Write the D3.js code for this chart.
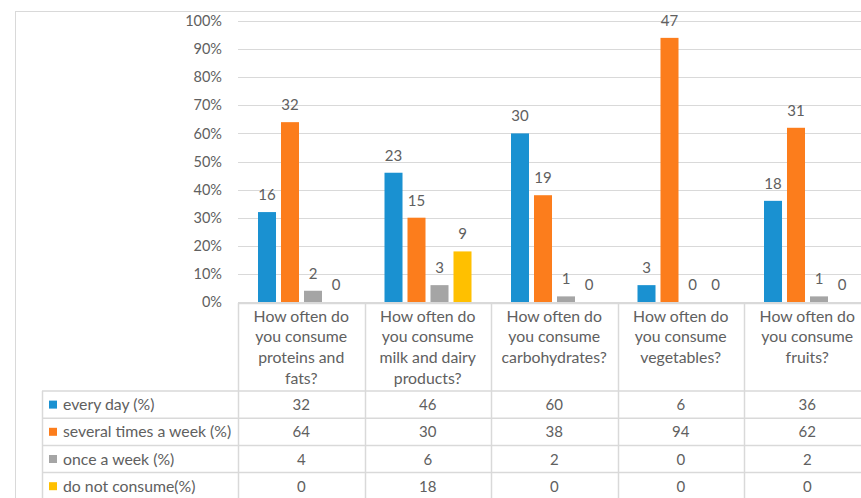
<!DOCTYPE html>
<html><head><meta charset="utf-8">
<script src="https://cdn.jsdelivr.net/npm/d3@7"></script>
<style>
html,body{margin:0;padding:0;background:#fff;overflow:hidden}
text{font-family:Lato,"Open Sans",sans-serif;fill:#606060}
</style></head>
<body><svg id="c" width="861" height="498"></svg>
<script>
const categories = [
  ["How often do","you consume","proteins and","fats?"],
  ["How often do","you consume","milk and dairy","products?"],
  ["How often do","you consume","carbohydrates?"],
  ["How often do","you consume","vegetables?"],
  ["How often do","you consume","fruits?"]
];
const seriesNames = ["every day (%)","several times a week (%)","once a week (%)","do not consume(%)"];
const everyDay = [32,46,60,6,36];
const severalTimes = [64,30,38,94,62];
const onceWeek = [4,6,2,0,2];
const notConsume = [0,18,0,0,0];
const countEveryDay = [16,23,30,3,18];
const countSeveral = [32,15,19,47,31];
const countOnce = [2,3,1,0,1];
const countNot = [0,9,0,0,0];
const yTicks = [0,10,20,30,40,50,60,70,80,90,100];
const colors = ["#1a91d1","#fc7d1c","#a5a5a5","#ffc000"];

const percents = [everyDay, severalTimes, onceWeek, notConsume];
const counts = [countEveryDay, countSeveral, countOnce, countNot];

const svg = d3.select("#c");
const idx = d3.range(categories.length);
const x = d3.scaleBand().domain(idx).range([238, 870.5]);
const xs = d3.scaleBand().domain(d3.range(4)).range([20, 107]).paddingInner(0.217);
const y = d3.scaleLinear().domain([0,100]).range([302, 21]);
const lineCol = "#d9d9d9";

// outer border
svg.append("rect").attr("x",15.5).attr("y",11.5).attr("width",900).attr("height",600)
  .attr("fill","none").attr("stroke",lineCol);

// gridlines
svg.append("g").selectAll("line").data(yTicks).join("line")
  .attr("x1",238).attr("x2",871).attr("y1",d=>Math.round(y(d))+0.5).attr("y2",d=>Math.round(y(d))+0.5)
  .attr("stroke",lineCol);

// y axis labels
const yAxis = d3.axisLeft(y).tickValues(yTicks).tickFormat(d=>d+"%").tickSize(0).tickPadding(0);
const ga = svg.append("g").attr("transform","translate(222,0)").call(yAxis);
ga.select(".domain").remove();
ga.selectAll("text").attr("font-size",14.5).attr("font-family","Lato,sans-serif").attr("fill","#606060");

// bars
percents.forEach((arr,s)=>{
  const g = svg.append("g");
  g.selectAll("rect").data(idx).join("rect")
    .attr("x",i=>x(i)+xs(s)).attr("width",xs.bandwidth())
    .attr("y",i=>y(arr[i])).attr("height",i=>y(0)-y(arr[i]))
    .attr("fill",colors[s]);
  g.selectAll("text").data(idx).join("text")
    .attr("x",i=>x(i)+xs(s)+xs.bandwidth()/2).attr("y",i=>y(arr[i])-12)
    .attr("text-anchor","middle").attr("font-size",15).text(i=>counts[s][i]);
});

// category header
const headTop = 303, headBot = 391;
const rowH = 27.2;
const tableLeft = 42;
const tableBot = headBot + rowH*4;
const tg = svg.append("g");
tg.append("line").attr("x1",238).attr("x2",871).attr("y1",headTop+0.5).attr("y2",headTop+0.5).attr("stroke",lineCol).attr("stroke-width",1.5);
idx.forEach(i=>{
  tg.append("line").attr("x1",Math.round(x(i))+0.5).attr("x2",Math.round(x(i))+0.5)
    .attr("y1",headTop).attr("y2",tableBot).attr("stroke",lineCol).attr("stroke-width",1.5);
  const cx = x(i)+x.bandwidth()/2;
  categories[i].forEach((ln,k)=>{
    tg.append("text").attr("x",cx).attr("y",headTop+18.5+k*20.7).attr("text-anchor","middle")
      .attr("font-size",15.8).text(ln);
  });
});
// table rows
for(let r=0;r<=4;r++){
  const yy = headBot + r*rowH;
  tg.append("line").attr("x1",tableLeft).attr("x2",871).attr("y1",yy).attr("y2",yy).attr("stroke",lineCol).attr("stroke-width",1.5);
}
tg.append("line").attr("x1",tableLeft+0.5).attr("x2",tableLeft+0.5).attr("y1",headBot).attr("y2",tableBot).attr("stroke",lineCol).attr("stroke-width",1.5);
seriesNames.forEach((nm,r)=>{
  const cy = headBot + r*rowH + rowH/2;
  tg.append("rect").attr("x",49).attr("y",cy-4).attr("width",8).attr("height",8).attr("fill",colors[r]);
  tg.append("text").attr("x",63).attr("y",cy+5.5).attr("font-size",15.8).text(nm);
  idx.forEach(i=>{
    tg.append("text").attr("x",x(i)+x.bandwidth()/2).attr("y",cy+5.5).attr("text-anchor","middle")
      .attr("font-size",15).text(percents[r][i]);
  });
});
</script></body></html>
